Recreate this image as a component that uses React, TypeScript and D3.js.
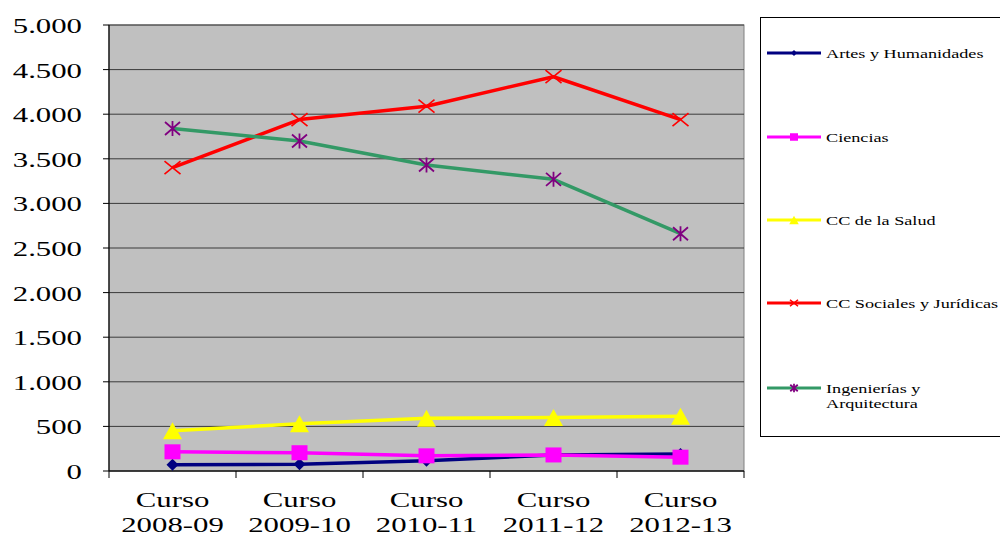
import React from "react";
import * as d3 from "d3";

const categories = ["Curso\n2008-09", "Curso\n2009-10", "Curso\n2010-11", "Curso\n2011-12", "Curso\n2012-13"];
const artes = [70, 75, 115, 180, 190];
const ciencias = [215, 205, 170, 180, 155];
const salud = [450, 530, 590, 600, 615];
const sociales = [3400, 3940, 4090, 4420, 3940];
const ingenierias = [3840, 3700, 3430, 3270, 2660];
const yTicks = [0, 500, 1000, 1500, 2000, 2500, 3000, 3500, 4000, 4500, 5000];
const yTickLabels = ["0", "500", "1.000", "1.500", "2.000", "2.500", "3.000", "3.500", "4.000", "4.500", "5.000"];

type Marker = "diamond" | "square" | "triangle" | "x" | "star";
interface Series { name: string[]; values: number[]; color: string; markerColor: string; marker: Marker; }

const series: Series[] = [
  { name: ["Artes y Humanidades"], values: artes, color: "#000080", markerColor: "#000080", marker: "diamond" },
  { name: ["Ciencias"], values: ciencias, color: "#FF00FF", markerColor: "#FF00FF", marker: "square" },
  { name: ["CC de la Salud"], values: salud, color: "#FFFF00", markerColor: "#FFFF00", marker: "triangle" },
  { name: ["CC Sociales y Jurídicas"], values: sociales, color: "#FF0000", markerColor: "#FF0000", marker: "x" },
  { name: ["Ingenierías y", "Arquitectura"], values: ingenierias, color: "#339966", markerColor: "#800080", marker: "star" },
];

const W = 1000, H = 536;
const plot = { left: 109, right: 744, top: 25, bottom: 471 };
const SX = 1.4; // horizontal text stretch
const FONT = '"Liberation Serif", "Times New Roman", serif';

function SText({ x, y, size, anchor = "start", children }: { x: number; y: number; size: number; anchor?: string; children: React.ReactNode }) {
  return (
    <text
      transform={`translate(${x},${y}) scale(${SX},1)`}
      style={{ fontFamily: FONT, fontSize: `${size}px` }}
      textAnchor={anchor}
      fill="#000"
    >
      {children}
    </text>
  );
}

function MarkerShape({ type, x, y, color, scale = 1 }: { type: Marker; x: number; y: number; color: string; scale?: number }) {
  const s = scale;
  switch (type) {
    case "diamond": {
      const w = 6 * s, h = 6 * s;
      return <path d={`M${x},${y - h}L${x + w},${y}L${x},${y + h}L${x - w},${y}Z`} fill={color} />;
    }
    case "square": {
      const w = 8 * s, h = 7.5 * s;
      return <rect x={x - w} y={y - h} width={2 * w} height={2 * h} fill={color} />;
    }
    case "triangle": {
      const w = 9.5 * s, h = 8.5 * s;
      return <path d={`M${x},${y - h}L${x + w},${y + h}L${x - w},${y + h}Z`} fill={color} />;
    }
    case "x": {
      const w = 8 * s, h = 6.5 * s;
      return <path d={`M${x - w},${y - h}L${x + w},${y + h}M${x - w},${y + h}L${x + w},${y - h}`} stroke={color} strokeWidth={1.6} fill="none" />;
    }
    case "star": {
      const w = 7.5 * s, h = 6.5 * s;
      return (
        <path
          d={`M${x - w},${y - h}L${x + w},${y + h}M${x - w},${y + h}L${x + w},${y - h}M${x},${y - h - 1}L${x},${y + h + 1}`}
          stroke={color}
          strokeWidth={1.8}
          fill="none"
        />
      );
    }
  }
  return null;
}

export default function App() {
  const x = d3.scaleBand<string>().domain(categories).range([plot.left, plot.right]).padding(0);
  const y = d3.scaleLinear().domain([0, 5000]).range([plot.bottom, plot.top]);
  const cx = (c: string) => (x(c) as number) + x.bandwidth() / 2;
  const line = d3
    .line<number>()
    .x((_, i) => cx(categories[i]))
    .y((v) => y(v));

  const legendX = 760.5, legendY = 17.5;
  const entryY = [53, 137, 220, 303, 388];

  return (
    <svg width={W} height={H} style={{ position: "absolute", left: 0, top: 0, background: "#fff" }}>
      {/* plot area */}
      <rect x={plot.left} y={plot.top} width={plot.right - plot.left} height={plot.bottom - plot.top} fill="#C0C0C0" stroke="#808080" strokeWidth={1} />
      {/* gridlines and y ticks */}
      {yTicks.map((t) => (
        <g key={t}>
          <line x1={plot.left} x2={plot.right} y1={y(t)} y2={y(t)} stroke="#3a3a3a" strokeWidth={1} />
          <line x1={plot.left - 6} x2={plot.left} y1={y(t)} y2={y(t)} stroke="#000" strokeWidth={1} />
        </g>
      ))}
      {/* axes */}
      <line x1={plot.left} x2={plot.left} y1={plot.top} y2={plot.bottom} stroke="#000" strokeWidth={1.2} />
      <line x1={plot.left} x2={plot.right} y1={plot.bottom} y2={plot.bottom} stroke="#000" strokeWidth={1.2} />
      {categories.map((c) => (
        <line key={c} x1={x(c)} x2={x(c)} y1={plot.bottom} y2={plot.bottom + 7} stroke="#000" strokeWidth={1} />
      ))}
      <line x1={plot.right} x2={plot.right} y1={plot.bottom} y2={plot.bottom + 7} stroke="#000" strokeWidth={1} />

      {/* y tick labels */}
      {yTicks.map((t, i) => (
        <SText key={t} x={82} y={y(t) + 8} size={22} anchor="end">
          {yTickLabels[i]}
        </SText>
      ))}
      {/* x tick labels */}
      {categories.map((c) => {
        const [a, b] = c.split("\n");
        return (
          <g key={c}>
            <SText x={cx(c)} y={507} size={22} anchor="middle">{a}</SText>
            <SText x={cx(c)} y={532} size={22} anchor="middle">{b}</SText>
          </g>
        );
      })}

      {/* series */}
      {series.map((s) => (
        <g key={s.name.join(" ")}>
          <path d={line(s.values) || ""} fill="none" stroke={s.color} strokeWidth={3.5} strokeLinejoin="round" />
          {s.values.map((v, i) => (
            <MarkerShape key={i} type={s.marker} x={cx(categories[i])} y={y(v)} color={s.markerColor} />
          ))}
        </g>
      ))}

      {/* legend */}
      <rect x={legendX} y={legendY} width={260} height={419} fill="#fff" stroke="#000" strokeWidth={1} />
      {series.map((s, i) => (
        <g key={s.name.join(" ")}>
          <line x1={767} x2={821} y1={entryY[i]} y2={entryY[i]} stroke={s.color} strokeWidth={3} />
          <MarkerShape type={s.marker} x={794} y={entryY[i]} color={s.markerColor} scale={0.5} />
          {s.name.map((n, j) => (
            <SText key={n} x={826} y={entryY[i] + 4.5 + j * 15} size={13}>{n}</SText>
          ))}
        </g>
      ))}
    </svg>
  );
}
